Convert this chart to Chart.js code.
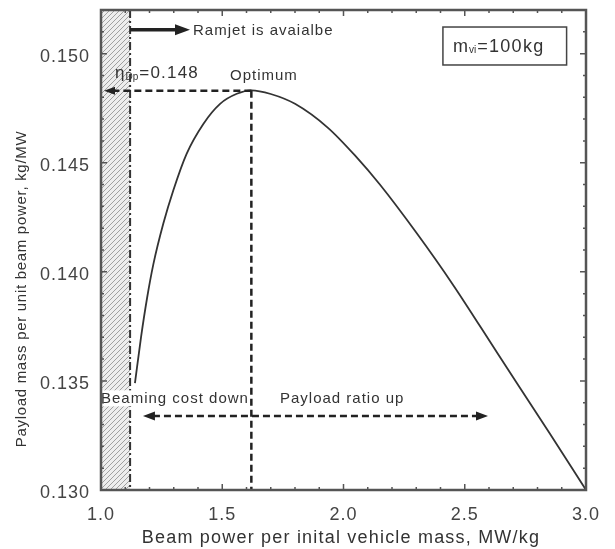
<!DOCTYPE html>
<html>
<head>
<meta charset="utf-8">
<script src="https://cdn.jsdelivr.net/npm/chart.js@4/dist/chart.umd.min.js"></script>
<style>
  body { margin: 0; background: #fff; }
  #wrap { width: 615px; height: 549px; }
</style>
</head>
<body>
<div id="wrap"><canvas id="c"></canvas></div>
<script>
// beam power per initial vehicle mass (MW/kg)
const beamPower = [1.140, 1.165, 1.190, 1.216, 1.257, 1.298, 1.353, 1.422, 1.491, 1.560, 1.620,
                   1.700, 1.800, 1.936, 2.050, 2.150, 2.300, 2.452, 2.633, 2.850, 3.000];
// payload mass per unit beam power (kg/MW)
const payloadPerPower = [0.1349, 0.1370, 0.1388, 0.14035, 0.14221, 0.14373, 0.14541, 0.14678, 0.14770, 0.14816, 0.14832,
                         0.14815, 0.1477, 0.1466, 0.1453, 0.1440, 0.1418, 0.1394, 0.1363, 0.1326, 0.1300];
const xTicks = [1.0, 1.5, 2.0, 2.5, 3.0];
const yTicks = [0.130, 0.135, 0.140, 0.145, 0.150];
const ramjetLimit = 1.12;
const optimumX = 1.62;
const optimumY = 0.1483;

const FONT = '"Liberation Sans", Arial, sans-serif';
const INK = '#333';

function hatchPattern(ctx) {
  const p = document.createElement('canvas');
  p.width = 5; p.height = 5;
  const g = p.getContext('2d');
  g.fillStyle = '#ededed';
  g.fillRect(0, 0, 5, 5);
  g.strokeStyle = '#a0a0a0';
  g.lineWidth = 1;
  g.beginPath();
  g.moveTo(0, 5); g.lineTo(5, 0);
  g.moveTo(-1, 1); g.lineTo(1, -1);
  g.moveTo(4, 6); g.lineTo(6, 4);
  g.stroke();
  return ctx.createPattern(p, 'repeat');
}

function arrowHead(ctx, x, y, dir, len, half) {
  ctx.beginPath();
  ctx.moveTo(x, y);
  ctx.lineTo(x - dir * len, y - half);
  ctx.lineTo(x - dir * len, y + half);
  ctx.closePath();
  ctx.fill();
}

function text(ctx, str, x, y, size, spacing) {
  ctx.font = size + 'px ' + FONT;
  ctx.letterSpacing = spacing + 'px';
  ctx.fillText(str, x, y);
  return ctx.measureText(str).width;
}

const decor = {
  id: 'decor',
  beforeDraw(chart) {
    chart.ctx.letterSpacing = '1px';
  },
  beforeDatasetsDraw(chart) {
    const { ctx, chartArea: a, scales: { x } } = chart;
    ctx.save();
    // hatched region where the ramjet is not available
    ctx.fillStyle = hatchPattern(ctx);
    ctx.fillRect(a.left, a.top, x.getPixelForValue(ramjetLimit) - a.left, a.bottom - a.top);
    // dash-dot limit line
    ctx.strokeStyle = INK;
    ctx.lineWidth = 2;
    ctx.setLineDash([8, 3, 2, 3]);
    ctx.beginPath();
    ctx.moveTo(x.getPixelForValue(ramjetLimit), a.top);
    ctx.lineTo(x.getPixelForValue(ramjetLimit), a.bottom);
    ctx.stroke();
    ctx.restore();
  },
  afterDatasetsDraw(chart) {
    const { ctx, chartArea: a, scales: { x, y } } = chart;
    ctx.save();
    ctx.strokeStyle = '#222';
    ctx.fillStyle = '#222';

    // optimum dashed lines
    const ox = x.getPixelForValue(optimumX), oy = y.getPixelForValue(optimumY);
    ctx.lineWidth = 2.5;
    ctx.setLineDash([7, 4]);
    ctx.beginPath();
    ctx.moveTo(ox, oy); ctx.lineTo(ox, a.bottom);
    ctx.moveTo(ox, oy); ctx.lineTo(a.left + 12, oy);
    ctx.stroke();
    ctx.setLineDash([]);
    arrowHead(ctx, a.left + 3, oy, -1, 11, 4);

    // double arrow: beaming cost down / payload ratio up
    const dy = y.getPixelForValue(0.13339);
    const x1 = x.getPixelForValue(1.173), x2 = x.getPixelForValue(2.596);
    ctx.setLineDash([7, 4]);
    ctx.beginPath();
    ctx.moveTo(x1 + 10, dy); ctx.lineTo(x2 - 10, dy);
    ctx.stroke();
    ctx.setLineDash([]);
    arrowHead(ctx, x1, dy, -1, 12, 4.5);
    arrowHead(ctx, x2, dy, 1, 12, 4.5);

    // ramjet arrow
    const ry = y.getPixelForValue(0.1511);
    const rx1 = x.getPixelForValue(ramjetLimit), rx2 = x.getPixelForValue(1.367);
    ctx.lineWidth = 3.5;
    ctx.beginPath();
    ctx.moveTo(rx1, ry); ctx.lineTo(rx2 - 12, ry);
    ctx.stroke();
    arrowHead(ctx, rx2, ry, 1, 15, 5.5);

    ctx.fillStyle = INK;
    ctx.textBaseline = 'middle';
    ctx.textAlign = 'left';
    text(ctx, 'Ramjet is avaialbe', rx2 + 3, ry + 1, 15, 1);

    // eta label
    let tx = x.getPixelForValue(1.058), ty = y.getPixelForValue(0.1491);
    tx += text(ctx, 'η', tx, ty, 17, 1);
    tx += text(ctx, 'Dp', tx, ty + 4, 10, 0);
    text(ctx, '=0.148', tx + 1, ty, 17, 1.2);

    text(ctx, 'Optimum', x.getPixelForValue(1.532), y.getPixelForValue(0.1490), 15, 1);

    // mass box
    const bx1 = x.getPixelForValue(2.41), bx2 = x.getPixelForValue(2.92);
    const by1 = y.getPixelForValue(0.15122), by2 = y.getPixelForValue(0.14948);
    ctx.lineWidth = 1.5;
    ctx.strokeStyle = '#444';
    ctx.strokeRect(bx1, by1, bx2 - bx1, by2 - by1);
    tx = bx1 + 10; ty = (by1 + by2) / 2 + 1;
    tx += text(ctx, 'm', tx, ty, 18, 1);
    tx += text(ctx, 'vi', tx, ty + 3, 10, 0);
    text(ctx, '=100kg', tx + 1, ty, 18, 1.3);

    // region labels
    const ly = y.getPixelForValue(0.1342);
    ctx.font = '15px ' + FONT;
    ctx.letterSpacing = '1px';
    const bw = ctx.measureText('Beaming cost down').width;
    ctx.fillStyle = '#fff';
    ctx.fillRect(a.left + 1, ly - 8, bw, 16);
    ctx.fillStyle = INK;
    text(ctx, 'Beaming cost down', a.left, ly, 15, 1);
    text(ctx, 'Payload ratio up', x.getPixelForValue(1.738), ly, 15, 1);

    // frame and inward ticks
    ctx.strokeStyle = '#555';
    ctx.lineWidth = 1.5;
    ctx.beginPath();
    for (let v = 10; v <= 30; v++) {
      const px = x.getPixelForValue(v / 10);
      const len = v % 5 === 0 ? 6 : 3;
      ctx.moveTo(px, a.bottom); ctx.lineTo(px, a.bottom - len);
      ctx.moveTo(px, a.top); ctx.lineTo(px, a.top + len);
    }
    for (let v = 130; v <= 152; v++) {
      const py = y.getPixelForValue(v / 1000);
      const len = v % 5 === 0 ? 6 : 3;
      ctx.moveTo(a.left, py); ctx.lineTo(a.left + len, py);
      ctx.moveTo(a.right, py); ctx.lineTo(a.right - len, py);
    }
    ctx.stroke();
    ctx.lineWidth = 2.5;
    ctx.strokeRect(a.left, a.top, a.right - a.left, a.bottom - a.top);

    // axis titles
    ctx.textAlign = 'center';
    text(ctx, 'Beam power per inital vehicle mass, MW/kg', 341, 538, 18, 1.2);
    ctx.translate(22, 289);
    ctx.rotate(-Math.PI / 2);
    text(ctx, 'Payload mass per unit beam power, kg/MW', 0, 0, 15, 0.7);

    ctx.restore();
  }
};

new Chart(document.getElementById('c'), {
  type: 'scatter',
  data: {
    datasets: [{
      data: beamPower.map((v, i) => ({ x: v, y: payloadPerPower[i] })),
      showLine: true,
      borderColor: '#333',
      borderWidth: 1.8,
      pointRadius: 0,
      cubicInterpolationMode: 'monotone',
      fill: false
    }]
  },
  options: {
    responsive: true,
    maintainAspectRatio: false,
    animation: false,
    layout: { padding: { top: 10, right: 29, left: 0, bottom: 0 } },
    plugins: { legend: { display: false }, tooltip: { enabled: false } },
    scales: {
      x: {
        type: 'linear', min: 1, max: 3,
        afterBuildTicks: s => { s.ticks = xTicks.map(v => ({ value: v })); },
        afterFit: s => { s.height = 59; s.paddingLeft = 0; s.paddingRight = 0; },
        ticks: { callback: v => v.toFixed(1), font: { size: 18, family: FONT, lineHeight: 1 }, color: '#444', padding: 16, maxRotation: 0 },
        grid: { display: false, drawTicks: false, tickLength: 0 },
        border: { display: false }
      },
      y: {
        type: 'linear', min: 0.130, max: 0.152,
        afterBuildTicks: s => { s.ticks = yTicks.map(v => ({ value: v })); },
        afterFit: s => { s.width = 101; s.paddingTop = 0; s.paddingBottom = 0; },
        ticks: { callback: v => v.toFixed(3), font: { size: 18, family: FONT, lineHeight: 1 }, color: '#444', padding: 11, labelOffset: 3 },
        grid: { display: false, drawTicks: false, tickLength: 0 },
        border: { display: false }
      }
    }
  },
  plugins: [decor]
});
</script>
</body>
</html>
